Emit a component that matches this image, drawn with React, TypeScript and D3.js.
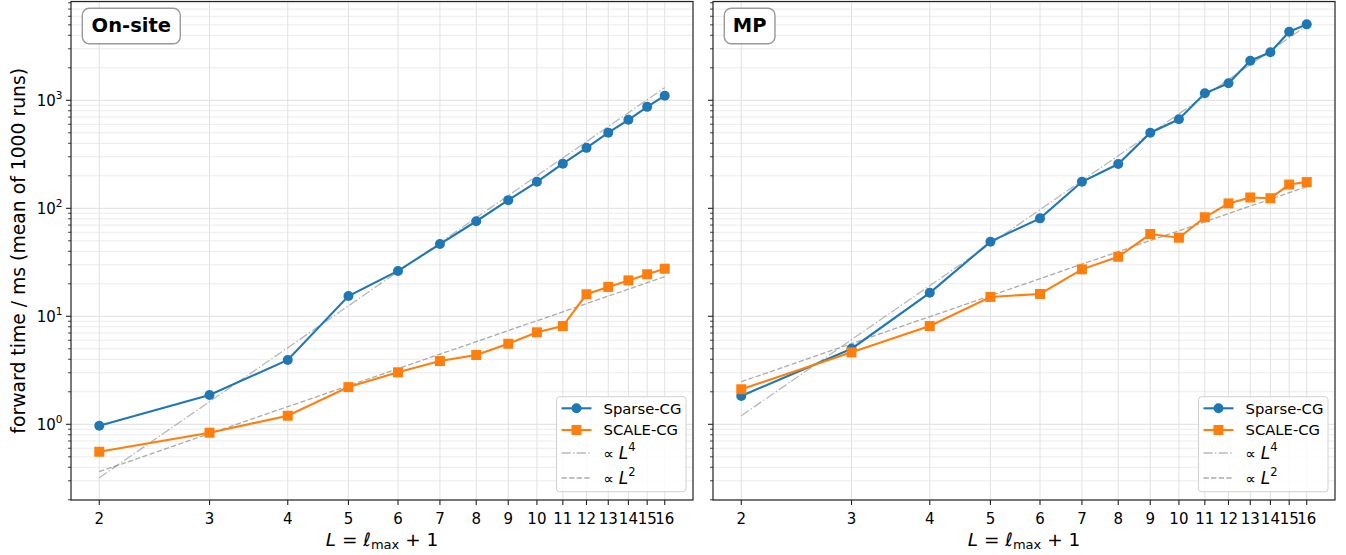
import React from 'react';
import * as d3 from 'd3';

// ---------------- data ----------------
const L_VALUES = [2, 3, 4, 5, 6, 7, 8, 9, 10, 11, 12, 13, 14, 15, 16];
const X_TICK_LABELS = L_VALUES.map(String);
const Y_TICK_EXPONENTS = [0, 1, 2, 3];

const ONSITE_SPARSE = [0.97, 1.87, 3.94, 15.4, 26.3, 46.7, 75.9, 119, 176, 259, 363, 502, 660, 870, 1104];
const ONSITE_SCALE = [0.557, 0.836, 1.2, 2.21, 3.03, 3.85, 4.38, 5.57, 7.11, 8.13, 16.0, 18.7, 21.5, 24.5, 27.6];
const MP_SPARSE = [1.83, 5.01, 16.5, 49.1, 80.7, 176, 257, 501, 667, 1161, 1437, 2327, 2782, 4315, 5050];
const MP_SCALE = [2.11, 4.64, 8.13, 15.1, 16.1, 27.2, 35.6, 57.8, 53.4, 82.6, 111, 126, 124, 166, 175];

// power-law reference prefactors: t = c * L^p
const ONSITE_FIT_C4 = 0.02;
const ONSITE_FIT_C2 = 0.091;
const MP_FIT_C4 = 0.075;
const MP_FIT_C2 = 0.62;

const SERIES_NAMES = ['Sparse-CG', 'SCALE-CG'];
const PANEL_TITLES = ['On-site', 'MP'];
const Y_LABEL = 'forward time / ms (mean of 1000 runs)';

// ---------------- layout ----------------
const W = 1346;
const H = 555;
const TOP = 1.5;
const BOTTOM = 500;
const BLUE = '#1f77b4';
const ORANGE = '#ff7f0e';
const FONT = 'DejaVu Sans, Verdana, sans-serif';
const TICK_FS = 15;
const LEG_FS = 14.8;

const yScale = d3
  .scaleLog()
  .domain([Math.pow(10, -0.701), Math.pow(10, 3.915)])
  .range([BOTTOM, TOP]);

const yMinorTicks: number[] = [];
for (let k = -1; k <= 3; k++) {
  for (let m = 2; m <= 9; m++) {
    const v = m * Math.pow(10, k);
    const [lo, hi] = yScale.domain();
    if (v >= lo && v <= hi) yMinorTicks.push(v);
  }
}
const yMajorTicks = Y_TICK_EXPONENTS.map((e) => Math.pow(10, e));

type PanelProps = {
  x0: number;
  x1: number;
  title: string;
  titleW: number;
  sparse: number[];
  scale: number[];
  c4: number;
  c2: number;
  showYLabels: boolean;
};

function Panel({ x0, x1, title, titleW, sparse, scale, c4, c2, showYLabels }: PanelProps) {
  const x = d3
    .scaleLog()
    .domain([2 * Math.pow(2, -0.15), 16 * Math.pow(2, 0.15)])
    .range([x0, x1]);
  const line = d3
    .line<[number, number]>()
    .x((d) => x(d[0]))
    .y((d) => yScale(d[1]));

  const sparsePts: [number, number][] = L_VALUES.map((l, i) => [l, sparse[i]]);
  const scalePts: [number, number][] = L_VALUES.map((l, i) => [l, scale[i]]);
  const fit4: [number, number][] = L_VALUES.map((l) => [l, c4 * Math.pow(l, 4)]);
  const fit2: [number, number][] = L_VALUES.map((l) => [l, c2 * Math.pow(l, 2)]);

  const cx = (x0 + x1) / 2;
  const lgX = x1 - 136.5;
  const lgY = 396.7;
  const hx0 = lgX + 5;
  const hx1 = lgX + 35;
  const tx = lgX + 47;
  const rows = [408.3, 430, 453, 478];

  return (
    <g>
      {/* grid */}
      {yMinorTicks.map((v, i) => (
        <line key={'gm' + i} x1={x0} x2={x1} y1={yScale(v)} y2={yScale(v)} stroke="#ebebeb" strokeWidth={1} />
      ))}
      {yMajorTicks.map((v, i) => (
        <line key={'gM' + i} x1={x0} x2={x1} y1={yScale(v)} y2={yScale(v)} stroke="#dedede" strokeWidth={1} />
      ))}
      {L_VALUES.map((l, i) => (
        <line key={'gx' + i} x1={x(l)} x2={x(l)} y1={TOP} y2={BOTTOM} stroke="#e2e2e2" strokeWidth={1} />
      ))}

      {/* fits */}
      <path d={line(fit4) || ''} fill="none" stroke="#808080" strokeOpacity={0.55} strokeWidth={1.3} strokeDasharray="9.2,2.3,1.4,2.3" />
      <path d={line(fit2) || ''} fill="none" stroke="#808080" strokeOpacity={0.65} strokeWidth={1.3} strokeDasharray="5.3,2.3" />

      {/* data */}
      <path d={line(sparsePts) || ''} fill="none" stroke={BLUE} strokeWidth={2.1} />
      {sparsePts.map((p, i) => (
        <circle key={'c' + i} cx={x(p[0])} cy={yScale(p[1])} r={5} fill={BLUE} />
      ))}
      <path d={line(scalePts) || ''} fill="none" stroke={ORANGE} strokeWidth={2.1} />
      {scalePts.map((p, i) => (
        <rect key={'s' + i} x={x(p[0]) - 5} y={yScale(p[1]) - 5} width={10} height={10} fill={ORANGE} />
      ))}

      {/* spines */}
      <rect x={x0} y={TOP} width={x1 - x0} height={BOTTOM - TOP} fill="none" stroke="#222" strokeWidth={1.2} />

      {/* x ticks */}
      {L_VALUES.map((l, i) => (
        <g key={'xt' + i}>
          <line x1={x(l)} x2={x(l)} y1={BOTTOM} y2={BOTTOM + 5} stroke="#222" strokeWidth={1.1} />
          <text x={x(l)} y={523.5} textAnchor="middle" fontSize={TICK_FS} fontFamily={FONT} fill="#000">
            {X_TICK_LABELS[i]}
          </text>
        </g>
      ))}

      {/* y ticks */}
      {yMinorTicks.map((v, i) => (
        <line key={'ym' + i} x1={x0 - 2.9} x2={x0} y1={yScale(v)} y2={yScale(v)} stroke="#222" strokeWidth={0.9} />
      ))}
      {yMajorTicks.map((v, i) => (
        <g key={'yM' + i}>
          <line x1={x0 - 5} x2={x0} y1={yScale(v)} y2={yScale(v)} stroke="#222" strokeWidth={1.1} />
          {showYLabels && (
            <text x={x0 - 8.5} y={yScale(v) + 5.5} textAnchor="end" fontSize={TICK_FS} fontFamily={FONT} fill="#000">
              10
              <tspan fontSize={10.5} dy={-7}>
                {String(Y_TICK_EXPONENTS[i])}
              </tspan>
            </text>
          )}
        </g>
      ))}

      {/* x label */}
      <text x={cx} y={545.5} textAnchor="middle" fontSize={18.5} fontFamily={FONT} fill="#000">
        <tspan fontStyle="italic">L</tspan>
        <tspan>{' = '}</tspan>
        <tspan fontStyle="italic">ℓ</tspan>
        <tspan fontSize={13} dy={3.5}>max</tspan>
        <tspan dy={-3.5}>{' + 1'}</tspan>
      </text>

      {/* title box */}
      <rect x={x0 + 11.3} y={8.3} width={titleW} height={35.4} rx={7} ry={7} fill="#fff" stroke="#999" strokeWidth={1.4} />
      <text x={x0 + 11.3 + titleW / 2} y={32.3} textAnchor="middle" fontSize={19.5} fontWeight="bold" fontFamily={FONT} fill="#000">
        {title}
      </text>

      {/* legend */}
      <rect x={lgX} y={lgY} width={129.5} height={95} rx={3} ry={3} fill="#fff" fillOpacity={0.85} stroke="#d0d0d0" strokeWidth={1} />
      <line x1={hx0} x2={hx1} y1={rows[0]} y2={rows[0]} stroke={BLUE} strokeWidth={2.1} />
      <circle cx={(hx0 + hx1) / 2} cy={rows[0]} r={5} fill={BLUE} />
      <text x={tx} y={rows[0] + 5.2} fontSize={LEG_FS} fontFamily={FONT} fill="#000">{SERIES_NAMES[0]}</text>
      <line x1={hx0} x2={hx1} y1={rows[1]} y2={rows[1]} stroke={ORANGE} strokeWidth={2.1} />
      <rect x={(hx0 + hx1) / 2 - 5} y={rows[1] - 5} width={10} height={10} fill={ORANGE} />
      <text x={tx} y={rows[1] + 5.2} fontSize={LEG_FS} fontFamily={FONT} fill="#000">{SERIES_NAMES[1]}</text>
      <line x1={hx0} x2={hx1} y1={rows[2]} y2={rows[2]} stroke="#808080" strokeOpacity={0.55} strokeWidth={1.3} strokeDasharray="9.2,2.3,1.4,2.3" />
      <text x={tx} y={rows[2] + 5.5} fontSize={LEG_FS} fontFamily={FONT} fill="#000">
        {'∝ '}
        <tspan fontStyle="italic" fontSize={17}>L</tspan>
        <tspan fontSize={11.5} dy={-7.5}>4</tspan>
      </text>
      <line x1={hx0} x2={hx1} y1={rows[3]} y2={rows[3]} stroke="#808080" strokeOpacity={0.65} strokeWidth={1.3} strokeDasharray="5.3,2.3" />
      <text x={tx} y={rows[3] + 5.5} fontSize={LEG_FS} fontFamily={FONT} fill="#000">
        {'∝ '}
        <tspan fontStyle="italic" fontSize={17}>L</tspan>
        <tspan fontSize={11.5} dy={-7.5}>2</tspan>
      </text>
    </g>
  );
}

export default function App() {
  return (
    <svg
      width={W}
      height={H}
      viewBox={`0 0 ${W} ${H}`}
      style={{ position: 'absolute', left: 0, top: 0, background: '#fff' }}
    >
      <rect x={0} y={0} width={W} height={H} fill="#fff" />
      <text
        transform={`translate(24.5, 250.75) rotate(-90)`}
        textAnchor="middle"
        fontSize={18.8}
        fontFamily={FONT}
        fill="#000"
      >
        {Y_LABEL}
      </text>
      <Panel
        x0={71}
        x1={693}
        title={PANEL_TITLES[0]}
        titleW={98}
        sparse={ONSITE_SPARSE}
        scale={ONSITE_SCALE}
        c4={ONSITE_FIT_C4}
        c2={ONSITE_FIT_C2}
        showYLabels={true}
      />
      <Panel
        x0={713}
        x1={1335}
        title={PANEL_TITLES[1]}
        titleW={50.7}
        sparse={MP_SPARSE}
        scale={MP_SCALE}
        c4={MP_FIT_C4}
        c2={MP_FIT_C2}
        showYLabels={false}
      />
    </svg>
  );
}
